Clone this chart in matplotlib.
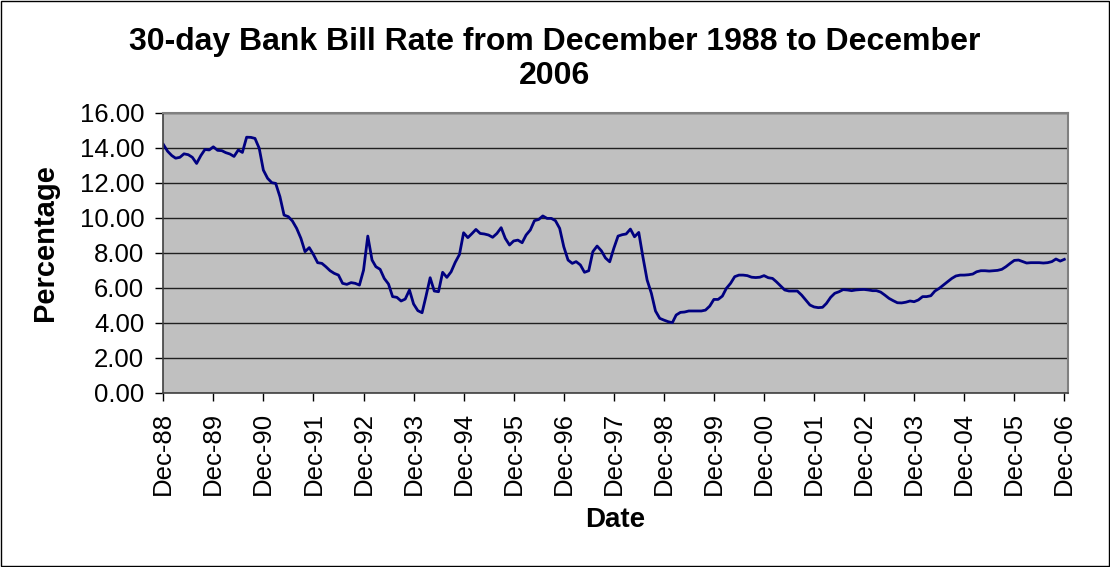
# 30-day Bank Bill Rate, Dec 1988 - Dec 2006 (monthly)

import pandas as pd
import matplotlib
matplotlib.use("Agg")
import matplotlib.pyplot as plt
import matplotlib.dates as mdates
from matplotlib.patches import Rectangle

plt.rcParams['font.family'] = ['Liberation Sans', 'DejaVu Sans']

# Месячные значения ставки, %
rates = [
    14.19, 13.80, 13.55, 13.40, 13.45, 13.65, 13.60, 13.45, 13.10, 13.55, 13.90, 13.87,
    14.05, 13.85, 13.83, 13.72, 13.64, 13.50, 13.87, 13.73, 14.60, 14.59, 14.53, 13.96,
    12.72, 12.25, 12.00, 11.96, 11.20, 10.15, 10.06, 9.81, 9.39, 8.82, 8.06, 8.29,
    7.90, 7.43, 7.39, 7.20, 6.97, 6.82, 6.72, 6.25, 6.19, 6.29, 6.25, 6.15,
    7.00, 8.95, 7.58, 7.20, 7.05, 6.53, 6.21, 5.49, 5.45, 5.24, 5.35, 5.87,
    5.07, 4.69, 4.57, 5.49, 6.57, 5.81, 5.77, 6.88, 6.59, 6.91, 7.45, 7.90,
    9.14, 8.86, 9.10, 9.33, 9.10, 9.07, 9.01, 8.88, 9.10, 9.43, 8.82, 8.44,
    8.67, 8.72, 8.57, 9.01, 9.30, 9.83, 9.90, 10.10, 9.96, 9.96, 9.83, 9.39,
    8.34, 7.58, 7.39, 7.49, 7.30, 6.88, 6.97, 8.06, 8.38, 8.11, 7.70, 7.48,
    8.25, 8.95, 9.03, 9.07, 9.35, 8.91, 9.16, 7.77, 6.44, 5.68, 4.67, 4.25,
    4.15, 4.06, 4.00, 4.44, 4.59, 4.61, 4.67, 4.67, 4.67, 4.67, 4.72, 4.95,
    5.33, 5.33, 5.52, 5.96, 6.25, 6.63, 6.72, 6.72, 6.69, 6.60, 6.58, 6.60,
    6.69, 6.57, 6.53, 6.34, 6.10, 5.87, 5.81, 5.81, 5.81, 5.58, 5.30, 5.01,
    4.90, 4.86, 4.88, 5.10, 5.45, 5.68, 5.77, 5.89, 5.87, 5.83, 5.87, 5.89,
    5.90, 5.87, 5.83, 5.83, 5.75, 5.58, 5.39, 5.26, 5.14, 5.13, 5.17, 5.24,
    5.20, 5.30, 5.49, 5.49, 5.54, 5.81, 5.96, 6.15, 6.34, 6.53, 6.67, 6.72,
    6.72, 6.74, 6.78, 6.91, 6.97, 6.97, 6.95, 6.97, 6.99, 7.05, 7.20, 7.39,
    7.56, 7.58, 7.49, 7.41, 7.43, 7.43, 7.43, 7.41, 7.43, 7.49, 7.64, 7.52,
    7.62,
]
dates = pd.date_range("1988-12-01", periods=len(rates), freq="MS")

fig = plt.figure(figsize=(11.1, 5.67), dpi=100)
ax = fig.add_axes([163.3 / 1110, 1 - 392.7 / 567, (1068.3 - 163.3) / 1110, 280 / 567])

ax.set_facecolor('#C0C0C0')
ax.plot(dates, rates, color='#000080', linewidth=2)

# Ось Y
ax.set_ylim(0, 16)
ax.set_yticks(range(0, 17, 2))
ax.yaxis.set_major_formatter(matplotlib.ticker.FormatStrFormatter('%.2f'))
ax.grid(axis='y', color='#202020', linewidth=1)
ax.set_axisbelow(True)

# Ось X: отметки каждый декабрь
ax.xaxis.set_major_locator(mdates.MonthLocator(bymonth=12, bymonthday=1))
ax.xaxis.set_major_formatter(mdates.DateFormatter('%b-%y'))
ax.set_xlim(dates[0], pd.Timestamp("2006-12-30"))
plt.setp(ax.get_xticklabels(), rotation=90)

ax.tick_params(axis='both', direction='out', length=5.8, width=1, pad=8,
               labelsize=18.5, colors='black')

for side in ['top', 'right']:
    ax.spines[side].set_color('#808080')
    ax.spines[side].set_linewidth(1.5)
for side in ['left', 'bottom']:
    ax.spines[side].set_color('#404040')
    ax.spines[side].set_linewidth(1.2)

fig.text(0.5, 1 - 59 / 567, "30-day Bank Bill Rate from December 1988 to December\n2006",
         ha='center', va='center', fontsize=23, fontweight='bold', linespacing=1.2)
fig.text(45 / 1110, 1 - 243 / 567, "Percentage", rotation=90, ha='center', va='center',
         fontsize=21, fontweight='bold')
fig.text(615 / 1110, 1 - 520 / 567, "Date", ha='center', va='center',
         fontsize=20, fontweight='bold')

# Рамка вокруг всего рисунка
fig.patches.append(Rectangle((1 / 1110, 1 / 567), 1107.5 / 1110, 565 / 567,
                             transform=fig.transFigure, fill=False,
                             edgecolor='black', linewidth=1))

fig.savefig("out.png", dpi=100)
